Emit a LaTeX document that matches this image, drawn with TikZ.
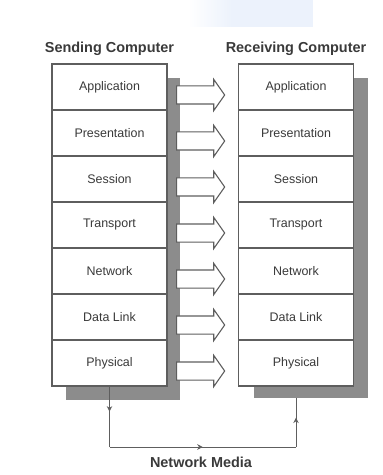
\documentclass[tikz,border=0pt]{standalone}
\usepackage{fontspec}
\setmainfont{Liberation Sans}
\usetikzlibrary{shapes.arrows,arrows.meta,decorations.markings,positioning,backgrounds}

\definecolor{boxgray}{HTML}{5E5E5E}
\definecolor{txtgray}{HTML}{3A3A3A}
\definecolor{shadowgray}{HTML}{8C8C8C}
\definecolor{paleblue}{RGB}{236,242,252}

\tikzset{
  layer/.style={draw=boxgray, line width=1.3bp, fill=white, outer sep=0pt,
    minimum width=115bp, minimum height=46bp, inner sep=0pt,
    font=\fontsize{12.5}{14}\selectfont, text=txtgray},
  pdu/.style={single arrow, draw=boxgray, fill=white, line width=1.1bp,
    minimum height=48bp, single arrow head extend=6.5bp,
    single arrow tip angle=110, inner xsep=0pt, inner ysep=8.5bp},
  title/.style={font=\bfseries\fontsize{14.5}{16}\selectfont, text=txtgray},
  media/.style={draw=boxgray, line width=1bp},
  midarrow/.style={postaction={decorate}, decoration={markings,
    mark=at position #1 with {\arrow{Stealth[length=5.5bp,width=5.5bp]}}}},
}

\begin{document}
\begin{tikzpicture}[x=1bp, y=1bp]
\useasboundingbox (0,0) rectangle (382,-475);
% faded blue patch at the top
\shade[left color=white, right color=paleblue] (188,0) rectangle (232,-27);
\fill[paleblue] (232,0) rectangle (313,-27);

% the two stacks
\foreach \name [count=\i] in {Application,Presentation,Session,Transport,Network,Data Link,Physical} {
  \node[layer] (s\i) at (109.5, {-87-46*(\i-1)}) {\name};
  \node[layer] (r\i) at (296, {-87-46*(\i-1)}) {\name};
}

% shadows behind the stacks
\begin{pgfonlayer}{background}
\fill[shadowgray] ([shift={(14bp,-14bp)}]s1.north west) rectangle ([shift={(13bp,-14bp)}]s7.south east);
\fill[shadowgray] ([shift={(15bp,-14bp)}]r1.north west) rectangle ([shift={(14bp,-12bp)}]r7.south east);
\end{pgfonlayer}

% peer arrows
\foreach \i in {1,...,7}
  \node[pdu] (a\i) at ([shift={(30.5bp,-8bp)}]s\i.east) {};

\node[title, above=5bp of s1] (send) {Sending Computer};
\node[title, above=5bp of r1] (recv) {Receiving Computer};

% network media
\coordinate (m) at (0,-447);
\coordinate (rs) at ([yshift=-12bp]r7.south);
\draw[media, midarrow=0.42] (s7.south) -- (s7.south |- m);
\draw[media, midarrow=0.5] (s7.south |- m) -- (rs |- m);
\draw[media, midarrow=0.6] (rs |- m) -- (rs);
\node[title] (net) at (201,-462) {Network Media};
\end{tikzpicture}
\end{document}
